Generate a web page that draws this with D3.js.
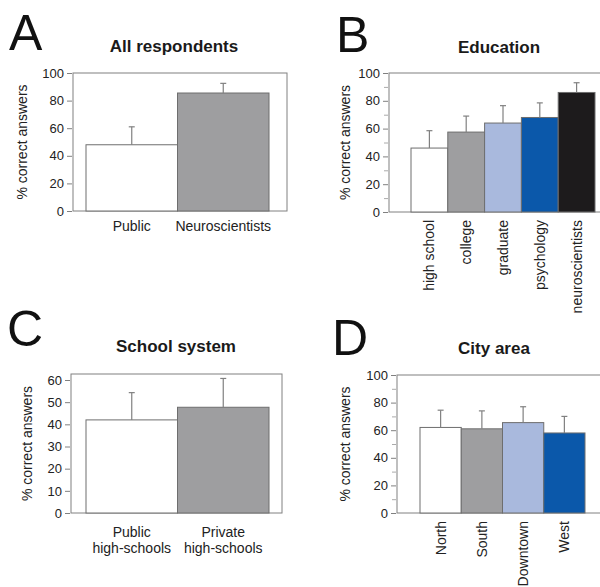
<!DOCTYPE html>
<html><head><meta charset="utf-8">
<script src="https://cdn.jsdelivr.net/npm/d3@7"></script>
<style>
html,body{margin:0;padding:0;background:#fff;}
svg{display:block;font-family:"Liberation Sans",Arial,Helvetica,sans-serif;}
</style></head>
<body>
<svg id="chart" width="600" height="587"></svg>
<script>
// ---- Data ----
const aCategories = ["Public", "Neuroscientists"];
const aValues = [48, 85.5];
const aErrors = [13, 7];
const aColors = ["#ffffff", "#9e9ea0"];
const aTicks = [0, 20, 40, 60, 80, 100];

const bCategories = ["high school", "college", "graduate", "psychology", "neuroscientists"];
const bValues = [46, 57.5, 64, 68, 86];
const bErrors = [12.5, 11.5, 12.5, 10.5, 7];
const bColors = ["#ffffff", "#9e9ea0", "#a9b9dd", "#0b58aa", "#1d1b1c"];
const bTicks = [0, 20, 40, 60, 80, 100];
const bMinorTicks = [10, 30, 50, 70, 90];

const cCategories = ["Public\nhigh-schools", "Private\nhigh-schools"];
const cValues = [42, 47.7];
const cErrors = [12.3, 13];
const cColors = ["#ffffff", "#9e9ea0"];
const cTicks = [0, 10, 20, 30, 40, 50, 60];

const dCategories = ["North", "South", "Downtown", "West"];
const dValues = [62, 61, 65.5, 58];
const dErrors = [12.5, 13, 11.5, 12];
const dColors = ["#ffffff", "#9e9ea0", "#a9b9dd", "#0b58aa"];
const dTicks = [0, 20, 40, 60, 80, 100];
const dMinorTicks = [10, 30, 50, 70, 90];

const yLabel = "% correct answers";

// ---- Drawing ----
const svg = d3.select("#chart");
const textColor = "#222";
const lineColor = "#808080";

function panel(o) {
  const g = svg.append("g");
  const y = d3.scaleLinear().domain([0, o.yMax]).range([o.bottom, o.yTop]);
  const x = d3.scaleBand().domain(o.cats).range([o.barL, o.barR]).padding(0);

  // frame
  g.append("rect")
    .attr("x", o.left).attr("y", o.frameTop)
    .attr("width", o.right - o.left).attr("height", o.bottom - o.frameTop)
    .attr("fill", "none").attr("stroke", lineColor).attr("stroke-width", 1);

  // minor ticks
  if (o.minor) {
    const am = g.append("g").attr("transform", `translate(${o.left - 1},0)`)
      .call(d3.axisLeft(y).tickValues(o.minor).tickSize(4).tickFormat(""));
    am.select(".domain").remove();
    am.selectAll("line").attr("stroke", "#aaa");
  }
  // major axis
  const ay = g.append("g").attr("transform", `translate(${o.left - 1},0)`)
    .call(d3.axisLeft(y).tickValues(o.ticks).tickSize(5).tickPadding(3));
  ay.select(".domain").remove();
  ay.selectAll("line").attr("stroke", lineColor);
  ay.selectAll("text").attr("fill", textColor).style("font-size", "13px")
    .style("font-family", "'Liberation Sans',Arial,sans-serif");

  // bars
  g.selectAll("rect.bar").data(o.cats).enter().append("rect")
    .attr("class", "bar")
    .attr("x", d => x(d)).attr("width", x.bandwidth())
    .attr("y", (d, i) => y(o.vals[i]))
    .attr("height", (d, i) => o.bottom - y(o.vals[i]))
    .attr("fill", (d, i) => o.colors[i])
    .attr("stroke", "#6e6e6e").attr("stroke-width", 1);

  // error bars (upper only)
  const eb = g.selectAll("g.err").data(o.cats).enter().append("g").attr("class", "err");
  eb.append("line")
    .attr("x1", d => x(d) + x.bandwidth() / 2).attr("x2", d => x(d) + x.bandwidth() / 2)
    .attr("y1", (d, i) => y(o.vals[i])).attr("y2", (d, i) => y(o.vals[i] + o.errs[i]))
    .attr("stroke", lineColor).attr("stroke-width", 1.2);
  eb.append("line")
    .attr("x1", d => x(d) + x.bandwidth() / 2 - 3).attr("x2", d => x(d) + x.bandwidth() / 2 + 3)
    .attr("y1", (d, i) => y(o.vals[i] + o.errs[i])).attr("y2", (d, i) => y(o.vals[i] + o.errs[i]))
    .attr("stroke", lineColor).attr("stroke-width", 1.2);

  // category labels
  if (o.rotate) {
    g.selectAll("text.cat").data(o.cats).enter().append("text")
      .attr("class", "cat")
      .attr("transform", d => `translate(${x(d) + x.bandwidth() / 2},${o.bottom + 8}) rotate(-90)`)
      .attr("text-anchor", "end").attr("dy", "0.35em")
      .attr("fill", textColor).style("font-size", "14px")
      .text(d => d);
  } else {
    const t = g.selectAll("text.cat").data(o.cats).enter().append("text")
      .attr("class", "cat")
      .attr("x", d => x(d) + x.bandwidth() / 2).attr("y", o.bottom + o.catOffset)
      .attr("text-anchor", "middle").attr("fill", textColor).style("font-size", "14px");
    t.selectAll("tspan").data(d => d.split("\n")).enter().append("tspan")
      .attr("x", function () { return d3.select(this.parentNode).attr("x"); })
      .attr("dy", (d, i) => i === 0 ? 0 : "1.12em")
      .text(d => d);
  }

  // y label
  g.append("text")
    .attr("transform", `translate(${o.yLabX},${(o.bottom + o.frameTop) / 2}) rotate(-90)`)
    .attr("text-anchor", "middle").attr("dy", "0.35em")
    .attr("fill", textColor).style("font-size", "14px")
    .text(yLabel);

  // title
  g.append("text")
    .attr("x", o.titleX).attr("y", o.titleY)
    .attr("text-anchor", "middle").attr("fill", "#1a1a1a")
    .style("font-size", "17px").style("font-weight", "bold")
    .text(o.title);

  // panel letter
  g.append("text")
    .attr("x", o.letterX).attr("y", o.letterY)
    .attr("fill", "#111").style("font-size", "50px")
    .text(o.letter);
}

panel({letter: "A", letterX: 9, letterY: 50, title: "All respondents", titleX: 174, titleY: 52,
  cats: aCategories, vals: aValues, errs: aErrors, colors: aColors, ticks: aTicks,
  yMax: 100, yTop: 73, frameTop: 73, bottom: 211, left: 73, right: 287, barL: 86, barR: 269,
  yLabX: 22, catOffset: 20});

panel({letter: "B", letterX: 336, letterY: 52, title: "Education", titleX: 499, titleY: 53,
  cats: bCategories, vals: bValues, errs: bErrors, colors: bColors, ticks: bTicks, minor: bMinorTicks,
  yMax: 100, yTop: 73, frameTop: 73, bottom: 212, left: 389, right: 606, barL: 411, barR: 595,
  rotate: true, yLabX: 345});

panel({letter: "C", letterX: 7, letterY: 346, title: "School system", titleX: 176, titleY: 352,
  cats: cCategories, vals: cValues, errs: cErrors, colors: cColors, ticks: cTicks,
  yMax: 60, yTop: 380, frameTop: 374, bottom: 513, left: 71, right: 282, barL: 86, barR: 269,
  yLabX: 27, catOffset: 24});

panel({letter: "D", letterX: 332, letterY: 355, title: "City area", titleX: 494, titleY: 354,
  cats: dCategories, vals: dValues, errs: dErrors, colors: dColors, ticks: dTicks, minor: dMinorTicks,
  yMax: 100, yTop: 375, frameTop: 375, bottom: 513, left: 397, right: 606, barL: 420, barR: 585,
  rotate: true, yLabX: 345});
</script>
</body></html>
